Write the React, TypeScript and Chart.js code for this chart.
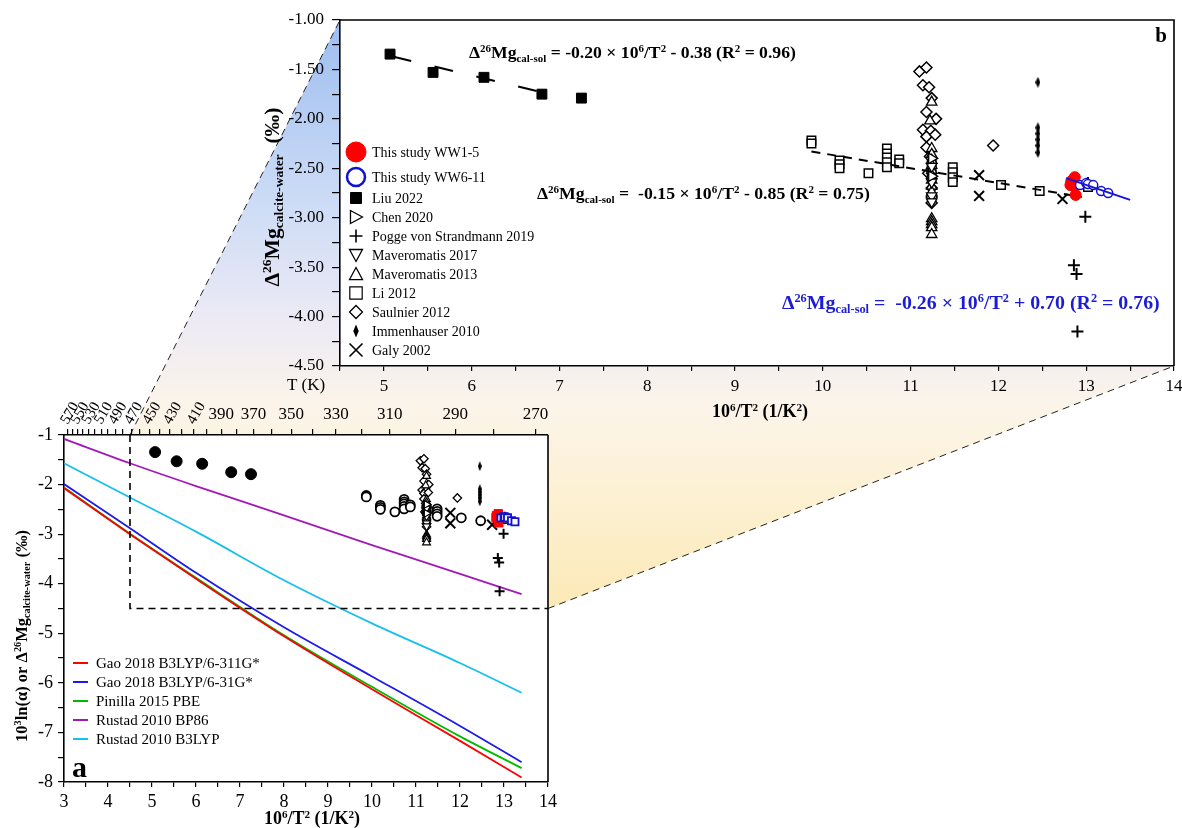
import React, { useEffect, useRef } from 'react';
import { Chart, registerables } from 'chart.js';

Chart.register(...registerables);

const W = 1182;
const H = 828;
const SERIF = "'Liberation Serif', 'Times New Roman', serif";

// ---------------- tick labels ----------------
const aXLabels = ['3', '4', '5', '6', '7', '8', '9', '10', '11', '12', '13', '14'];
const aYLabels = ['-1', '-2', '-3', '-4', '-5', '-6', '-7', '-8'];
const bXLabels = ['5', '6', '7', '8', '9', '10', '11', '12', '13', '14'];
const bYLabels = ['-1.00', '-1.50', '-2.00', '-2.50', '-3.00', '-3.50', '-4.00', '-4.50'];
const tempTicks = [570, 560, 550, 540, 530, 520, 510, 500, 490, 480, 470, 460, 450, 440, 430, 420, 410, 400, 390, 380, 370, 360, 350, 340, 330, 320, 310, 300, 290, 280, 270];
const tempRotLabels = [570, 550, 530, 510, 490, 470, 450, 430, 410];
const tempFlatLabels = [390, 370, 350, 330, 310, 290, 270];

// ---------------- panel a: theoretical lines ----------------
const theoryX = [3, 4.5, 6, 8, 10, 12, 13.4];
const gao311 = [-2.07, -3.0, -3.9, -5.06, -6.13, -7.17, -7.91];
const gao31 = [-1.99, -2.88, -3.78, -4.88, -5.87, -6.87, -7.6];
const pinilla = [-2.06, -2.99, -3.88, -5.04, -6.08, -7.08, -7.72];
const rustadBP86 = [-1.08, -1.57, -2.03, -2.62, -3.22, -3.8, -4.21];
const rustadB3LYP = [-1.57, -2.26, -2.95, -3.93, -4.8, -5.6, -6.2];
const theoryNames = ['Gao 2018 B3LYP/6-311G*', 'Gao 2018 B3LYP/6-31G*', 'Pinilla 2015 PBE', 'Rustad 2010 BP86', 'Rustad 2010 B3LYP'];
const theoryColors = ['#ff0000', '#1c1ce6', '#00bb00', '#a319b8', '#16c0ea'];

// zoom box (panel a region shown in panel b)
const boxX = [4.5, 4.5, 14];
const boxY = [-1, -4.5, -4.5];

// ---------------- measured data ----------------
const ww15X = [12.87, 12.83, 12.82, 12.86, 12.88];
const ww15Y = [-2.59, -2.63, -2.67, -2.68, -2.77];
const ww611X = [12.93, 13.0, 13.02, 13.08, 13.17, 13.25];
const ww611Y = [-2.67, -2.65, -2.66, -2.67, -2.73, -2.75];
const liuX = [5.07, 5.56, 6.14, 6.8, 7.25];
const liuY = [-1.345, -1.53, -1.58, -1.75, -1.79];
const chenX = [11.24, 11.24];
const chenY = [-2.4, -2.58];
const poggeX = [12.99, 13.02, 12.86, 12.89, 12.9];
const poggeY = [-2.99, -2.65, -3.48, -3.57, -4.15];
const mav2017X = [11.24, 11.24, 11.24, 11.24];
const mav2017Y = [-2.48, -2.64, -2.78, -2.84];
const mav2013X = [11.24, 11.22, 11.24, 11.24, 11.24, 11.24, 11.24, 11.24, 11.24, 11.24, 11.24, 11.24, 11.24, 11.24, 11.24, 11.24];
const mav2013Y = [-1.83, -2.02, -2.3, -2.36, -2.42, -2.47, -2.52, -2.57, -2.62, -2.68, -2.74, -3.01, -3.04, -3.07, -3.1, -3.17];
const li2012X = [9.87, 9.87, 10.19, 10.19, 10.19, 10.52, 10.73, 10.73, 10.73, 10.73, 10.73, 10.87, 10.87, 11.24, 11.24, 11.48, 11.48, 11.48, 11.48, 12.03, 12.47, 13.02];
const li2012Y = [-2.22, -2.25, -2.42, -2.46, -2.5, -2.55, -2.3, -2.35, -2.39, -2.44, -2.49, -2.41, -2.45, -2.46, -2.56, -2.49, -2.54, -2.59, -2.64, -2.67, -2.73, -2.69];
const saulnierX = [11.1, 11.18, 11.14, 11.21, 11.24, 11.18, 11.29, 11.14, 11.23, 11.18, 11.28, 11.18, 11.22, 11.2, 11.24, 11.24, 11.24, 11.94];
const saulnierY = [-1.52, -1.48, -1.66, -1.68, -1.79, -1.93, -2.0, -2.11, -2.12, -2.18, -2.16, -2.29, -2.38, -2.55, -2.7, -2.79, -2.85, -2.27];
const immenX = [12.45, 12.45, 12.45, 12.45, 12.45, 12.45];
const immenY = [-1.63, -2.09, -2.15, -2.21, -2.27, -2.34];
const galyX = [11.78, 11.78, 12.73];
const galyY = [-2.57, -2.78, -2.81];

// regression lines (panel b)
const liuFitX = [5.1, 6.94];
const liuFitY = [-1.37, -1.76];
const allFitX = [9.87, 12.95];
const allFitY = [-2.33, -2.79];
const wwFitX = [12.77, 13.5];
const wwFitY = [-2.6, -2.82];

const legendBLabels = ['This study WW1-5', 'This study WW6-11', 'Liu 2022', 'Chen 2020', 'Pogge von Strandmann 2019', 'Maveromatis 2017', 'Maveromatis 2013', 'Li 2012', 'Saulnier 2012', 'Immenhauser 2010', 'Galy 2002'];

// ---------------- helpers ----------------
const pts = (xs: number[], ys: number[]) => xs.map((x, i) => ({ x, y: ys[i] }));

function markerSet(label: string, xs: number[], ys: number[], style: any, r: number, stroke: string, fill: string, bw: number, rot = 0, order = 0) {
  return {
    label, data: pts(xs, ys), showLine: false,
    pointStyle: style, pointRadius: r, pointHoverRadius: r,
    pointBorderColor: stroke, pointBackgroundColor: fill, pointBorderWidth: bw,
    pointRotation: rot, order,
  };
}
function lineSet(label: string, xs: number[], ys: number[], color: string, width: number, dash: number[], order: number, smooth = false) {
  return {
    label, data: pts(xs, ys), showLine: true, borderColor: color, borderWidth: width,
    borderDash: dash, pointRadius: 0, pointHoverRadius: 0, order, fill: false,
    cubicInterpolationMode: smooth ? 'monotone' : 'default',
  };
}
function thinDiamond(w: number, h: number) {
  const c = document.createElement('canvas');
  c.width = w; c.height = h;
  const g = c.getContext('2d')!;
  g.fillStyle = '#000';
  g.beginPath();
  g.moveTo(w / 2, 0); g.lineTo(w, h / 2); g.lineTo(w / 2, h); g.lineTo(0, h / 2);
  g.closePath(); g.fill();
  return c;
}

type Part = [string, number];
function richDraw(ctx: CanvasRenderingContext2D, parts: Part[], x: number, y: number, size: number, bold: boolean, color: string, align: string, fit?: number) {
  const wt = bold ? 'bold ' : '';
  const measure = (S: number) => {
    let w = 0;
    for (const [t, k] of parts) { ctx.font = `${wt}${k ? S * 0.62 : S}px ${SERIF}`; w += ctx.measureText(t).width; }
    return w;
  };
  let S = size;
  let w = measure(S);
  if (fit) {
    const k = Math.max(0.8, Math.min(1.25, fit / w));
    S = size * k; w = measure(S);
  }
  let cx = align === 'center' ? x - w / 2 : x;
  ctx.fillStyle = color; ctx.textBaseline = 'alphabetic'; ctx.textAlign = 'left';
  for (const [t, k] of parts) {
    const fs = k ? S * 0.62 : S;
    ctx.font = `${wt}${fs}px ${SERIF}`;
    const dy = k === 1 ? -0.36 * S : k === -1 ? 0.2 * S : 0;
    ctx.fillText(t, cx, y + dy);
    cx += ctx.measureText(t).width;
  }
}

function drawMarker(ctx: CanvasRenderingContext2D, kind: string, x: number, y: number, r: number, stroke: string, fill: string, lw: number) {
  ctx.save();
  ctx.strokeStyle = stroke; ctx.fillStyle = fill; ctx.lineWidth = lw;
  ctx.beginPath();
  switch (kind) {
    case 'circle': ctx.arc(x, y, r, 0, Math.PI * 2); break;
    case 'square': ctx.rect(x - r, y - r, 2 * r, 2 * r); break;
    case 'diamond': ctx.moveTo(x, y - r); ctx.lineTo(x + r, y); ctx.lineTo(x, y + r); ctx.lineTo(x - r, y); ctx.closePath(); break;
    case 'thin': ctx.moveTo(x, y - r); ctx.lineTo(x + r * 0.42, y); ctx.lineTo(x, y + r); ctx.lineTo(x - r * 0.42, y); ctx.closePath(); break;
    case 'triUp': ctx.moveTo(x, y - r); ctx.lineTo(x + r, y + r * 0.85); ctx.lineTo(x - r, y + r * 0.85); ctx.closePath(); break;
    case 'triDown': ctx.moveTo(x, y + r); ctx.lineTo(x + r, y - r * 0.85); ctx.lineTo(x - r, y - r * 0.85); ctx.closePath(); break;
    case 'triRight': ctx.moveTo(x + r, y); ctx.lineTo(x - r * 0.85, y - r); ctx.lineTo(x - r * 0.85, y + r); ctx.closePath(); break;
    case 'plus': ctx.moveTo(x - r, y); ctx.lineTo(x + r, y); ctx.moveTo(x, y - r); ctx.lineTo(x, y + r); break;
    case 'x': ctx.moveTo(x - r, y - r); ctx.lineTo(x + r, y + r); ctx.moveTo(x + r, y - r); ctx.lineTo(x - r, y + r); break;
  }
  if (fill !== 'none' && kind !== 'plus' && kind !== 'x') ctx.fill();
  if (kind !== 'thin') ctx.stroke();
  ctx.restore();
}

const labelCb = (list: string[], digits: number) => (v: any) => {
  const n = Number(v);
  const t = digits > 0 ? n.toFixed(digits) : String(Math.round(n * 100) / 100);
  return list.includes(t) ? t : '';
};

const tickFont = (size: number) => ({ family: SERIF, size });
const gridTicks = (len: number) => ({ display: true, drawOnChartArea: false, drawTicks: true, tickLength: len, color: '#000', lineWidth: 1.2 });
const axisBorder = { display: true, color: '#000', width: 1.6 };

const eq1: Part[] = [['Δ', 0], ['26', 1], ['Mg', 0], ['cal-sol', -1], [' = -0.20 × 10', 0], ['6', 1], ['/T', 0], ['2', 1], [' - 0.38 (R', 0], ['2', 1], [' = 0.96)', 0]];
const eq2: Part[] = [['Δ', 0], ['26', 1], ['Mg', 0], ['cal-sol', -1], [' =  -0.15 × 10', 0], ['6', 1], ['/T', 0], ['2', 1], [' - 0.85 (R', 0], ['2', 1], [' = 0.75)', 0]];
const eq3: Part[] = [['Δ', 0], ['26', 1], ['Mg', 0], ['cal-sol', -1], [' =  -0.26 × 10', 0], ['6', 1], ['/T', 0], ['2', 1], [' + 0.70 (R', 0], ['2', 1], [' = 0.76)', 0]];
const xTitle: Part[] = [['10', 0], ['6', 1], ['/T', 0], ['2', 1], [' (1/K', 0], ['2', 1], [')', 0]];
const yTitleB: Part[] = [['Δ', 0], ['26', 1], ['Mg', 0], ['calcite-water', -1], ['  (‰)', 0]];
const yTitleA: Part[] = [['10', 0], ['3', 1], ['ln(α) or Δ', 0], ['26', 1], ['Mg', 0], ['calcite-water', -1], [' (‰)', 0]];

// ---------------- panel a ----------------
function makeConfigA(immA: HTMLCanvasElement) {
  const pluginA = {
    id: 'panelA',
    beforeDraw(chart: any) {
      const { ctx, chartArea: ca } = chart;
      ctx.save(); ctx.fillStyle = '#fff';
      ctx.fillRect(ca.left, ca.top, ca.right - ca.left, ca.bottom - ca.top);
      ctx.restore();
    },
    afterDraw(chart: any) {
      const { ctx, chartArea: ca } = chart;
      ctx.save();
      ctx.strokeStyle = '#000'; ctx.lineWidth = 1.6;
      ctx.beginPath(); ctx.moveTo(ca.right, ca.top); ctx.lineTo(ca.right, ca.bottom); ctx.stroke();
      // rotated temperature labels
      const sT = chart.scales.xT;
      ctx.font = `15px ${SERIF}`; ctx.fillStyle = '#000'; ctx.textAlign = 'left'; ctx.textBaseline = 'middle';
      for (const T of tempRotLabels) {
        const px = sT.getPixelForValue(1e6 / (T * T));
        ctx.save(); ctx.translate(px - 3, ca.top - 12); ctx.rotate(-Math.PI / 3);
        ctx.fillText(String(T), 0, 0); ctx.restore();
      }
      ctx.font = `17px ${SERIF}`; ctx.textAlign = 'center'; ctx.textBaseline = 'alphabetic';
      ctx.fillText('T (K)', 306, 390);
      // legend
      const rows = [663, 682, 701, 720, 739];
      theoryNames.forEach((n, i) => {
        ctx.strokeStyle = theoryColors[i]; ctx.lineWidth = 2;
        ctx.beginPath(); ctx.moveTo(73, rows[i]); ctx.lineTo(88, rows[i]); ctx.stroke();
        ctx.font = `15px ${SERIF}`; ctx.fillStyle = '#000'; ctx.textAlign = 'left';
        ctx.fillText(n, 96, rows[i] + 5);
      });
      // panel letter
      ctx.font = `bold 30px ${SERIF}`; ctx.textAlign = 'left';
      ctx.fillText('a', 72, 777);
      // titles
      richDraw(ctx, xTitle, 312, 824, 18, true, '#000', 'center');
      ctx.save(); ctx.translate(27, 636); ctx.rotate(-Math.PI / 2);
      richDraw(ctx, yTitleA, 0, 0, 18, true, '#000', 'center', 212);
      ctx.restore();
      ctx.restore();
    },
  };
  return {
    type: 'scatter',
    data: {
      datasets: [
        markerSet('This study WW1-5', ww15X, ww15Y, 'rect', 6, '#ff0000', '#ff0000', 1, 0, -3),
        markerSet('This study WW6-11', ww611X, ww611Y, 'rect', 5, '#1010d0', '#ffffff', 1.8, 0, -4),
        markerSet('Liu 2022', liuX, liuY, 'circle', 5.5, '#000', '#000', 1, 0, 0),
        markerSet('Chen 2020', chenX, chenY, 'triangle', 4.5, '#000', '#fff', 1.2, 90, 0),
        markerSet('Pogge von Strandmann 2019', poggeX, poggeY, 'cross', 5, '#000', '#000', 2, 0, -1),
        markerSet('Maveromatis 2017', mav2017X, mav2017Y, 'triangle', 4.5, '#000', '#fff', 1.2, 180, 0),
        markerSet('Maveromatis 2013', mav2013X, mav2013Y, 'triangle', 4.5, '#000', '#fff', 1.2, 0, 0),
        markerSet('Li 2012', li2012X, li2012Y, 'circle', 4.5, '#000', '#fff', 1.8, 0, 0),
        markerSet('Saulnier 2012', saulnierX, saulnierY, 'rectRot', 4.2, '#000', '#fff', 1.3, 0, 0),
        markerSet('Immenhauser 2010', immenX, immenY, immA, 5, '#000', '#000', 1, 0, 0),
        markerSet('Galy 2002', galyX, galyY, 'crossRot', 7, '#000', '#000', 2, 0, -1),
        lineSet('zoom box', boxX, boxY, '#000', 1.6, [7, 5], 5),
        lineSet(theoryNames[1], theoryX, gao31, theoryColors[1], 1.8, [], 8, true),
        lineSet(theoryNames[2], theoryX, pinilla, theoryColors[2], 1.8, [], 9, true),
        lineSet(theoryNames[0], theoryX, gao311, theoryColors[0], 1.8, [], 7, true),
        lineSet(theoryNames[3], theoryX, rustadBP86, theoryColors[3], 1.8, [], 8, true),
        lineSet(theoryNames[4], theoryX, rustadB3LYP, theoryColors[4], 1.8, [], 8, true),
      ],
    },
    options: {
      responsive: false, animation: false, devicePixelRatio: 1, events: [],
      layout: { autoPadding: false, padding: { left: 14, top: 405, right: W - 548, bottom: H - 782 - 30 } },
      plugins: { legend: { display: false }, tooltip: { enabled: false } },
      scales: {
        x: {
          type: 'linear', position: 'bottom', min: 3, max: 14,
          ticks: { stepSize: 0.5, autoSkip: false, maxRotation: 0, minRotation: 0, padding: 4, color: '#000', font: tickFont(18), callback: labelCb(aXLabels, 0) },
          grid: gridTicks(5), border: axisBorder,
          afterFit: (s: any) => { s.height = 30; s.paddingLeft = 0; s.paddingRight = 0; s.paddingTop = 0; s.paddingBottom = 0; },
        },
        xT: {
          type: 'linear', position: 'top', min: 3, max: 14,
          afterBuildTicks: (s: any) => { s.ticks = tempTicks.map((T) => ({ value: 1e6 / (T * T) })); },
          ticks: {
            autoSkip: false, maxRotation: 0, minRotation: 0, padding: 4, color: '#000', font: tickFont(17),
            callback: (v: any) => { const T = Math.round(1000 / Math.sqrt(Number(v))); return tempFlatLabels.includes(T) ? String(T) : ''; },
          },
          grid: gridTicks(6), border: axisBorder,
          afterFit: (s: any) => { s.height = 30; s.paddingLeft = 0; s.paddingRight = 0; s.paddingTop = 0; s.paddingBottom = 0; },
        },
        y: {
          type: 'linear', position: 'left', min: -8, max: -1,
          ticks: { stepSize: 0.5, autoSkip: false, padding: 5, color: '#000', font: tickFont(18), callback: labelCb(aYLabels, 0) },
          grid: gridTicks(6), border: axisBorder,
          afterFit: (s: any) => { s.width = 50; s.paddingTop = 0; s.paddingBottom = 0; s.paddingLeft = 0; s.paddingRight = 0; },
        },
      },
    },
    plugins: [pluginA],
  };
}

// ---------------- panel b ----------------
function makeConfigB(chartA: any, immB: HTMLCanvasElement) {
  const legendSpecs = [
    { kind: 'circle', r: 10, stroke: '#ff0000', fill: '#ff0000', lw: 1 },
    { kind: 'circle', r: 9, stroke: '#1010d0', fill: '#fff', lw: 2.5 },
    { kind: 'square', r: 5.5, stroke: '#000', fill: '#000', lw: 1 },
    { kind: 'triRight', r: 6.5, stroke: '#000', fill: '#fff', lw: 1.3 },
    { kind: 'plus', r: 6.5, stroke: '#000', fill: 'none', lw: 1.6 },
    { kind: 'triDown', r: 6.5, stroke: '#000', fill: '#fff', lw: 1.3 },
    { kind: 'triUp', r: 6.5, stroke: '#000', fill: '#fff', lw: 1.3 },
    { kind: 'square', r: 6.2, stroke: '#000', fill: '#fff', lw: 1.2 },
    { kind: 'diamond', r: 6.5, stroke: '#000', fill: '#fff', lw: 1.3 },
    { kind: 'thin', r: 6.5, stroke: '#000', fill: '#000', lw: 1 },
    { kind: 'x', r: 6.5, stroke: '#000', fill: 'none', lw: 1.6 },
  ];
  const legendRows = [152, 177, 198, 217, 236, 255, 274, 293, 312, 331, 350];
  const pluginB = {
    id: 'panelB',
    beforeDraw(chart: any) {
      const { ctx, chartArea: ca } = chart;
      const ax = chartA.scales.x, ay = chartA.scales.y, bx = chart.scales.x, by = chart.scales.y;
      const p1 = [ax.getPixelForValue(boxX[0]), ay.getPixelForValue(boxY[0])];
      const p2 = [bx.getPixelForValue(boxX[0]), by.getPixelForValue(boxY[0])];
      const p3 = [bx.getPixelForValue(boxX[2]), by.getPixelForValue(boxY[0])];
      const p4 = [bx.getPixelForValue(boxX[2]), by.getPixelForValue(boxY[2])];
      const p5 = [ax.getPixelForValue(boxX[2]), ay.getPixelForValue(boxY[2])];
      ctx.save();
      const g = ctx.createLinearGradient(0, p2[1], 0, p5[1]);
      g.addColorStop(0, '#9dbdf0');
      g.addColorStop(0.3, '#cbdbf6');
      g.addColorStop(0.5, '#ebe9f5');
      g.addColorStop(0.65, '#fbf4ea');
      g.addColorStop(0.8, '#fdf1d4');
      g.addColorStop(1, '#fce9b6');
      ctx.fillStyle = g;
      ctx.beginPath();
      ctx.moveTo(p1[0], p1[1]); ctx.lineTo(p2[0], p2[1]); ctx.lineTo(p3[0], p3[1]);
      ctx.lineTo(p4[0], p4[1]); ctx.lineTo(p5[0], p5[1]); ctx.closePath(); ctx.fill();
      ctx.fillStyle = '#fff';
      ctx.fillRect(ca.left, ca.top, ca.right - ca.left, ca.bottom - ca.top);
      ctx.strokeStyle = '#222'; ctx.lineWidth = 1; ctx.setLineDash([7, 5]);
      ctx.beginPath(); ctx.moveTo(p1[0], p1[1]); ctx.lineTo(p2[0], p2[1]); ctx.stroke();
      ctx.beginPath(); ctx.moveTo(p5[0], p5[1]); ctx.lineTo(p4[0], p4[1]); ctx.stroke();
      ctx.restore();
    },
    afterDraw(chart: any) {
      const { ctx, chartArea: ca } = chart;
      ctx.save();
      ctx.strokeStyle = '#000'; ctx.lineWidth = 1.6;
      ctx.beginPath(); ctx.moveTo(ca.left, ca.top); ctx.lineTo(ca.right, ca.top); ctx.lineTo(ca.right, ca.bottom); ctx.stroke();
      // legend
      legendBLabels.forEach((lab, i) => {
        const s = legendSpecs[i];
        drawMarker(ctx, s.kind, 356, legendRows[i], s.r, s.stroke, s.fill, s.lw);
        ctx.font = `14px ${SERIF}`; ctx.fillStyle = '#000'; ctx.textAlign = 'left'; ctx.textBaseline = 'alphabetic';
        ctx.fillText(lab, 372, legendRows[i] + 5);
      });
      // equations
      richDraw(ctx, eq1, 469, 58, 17, true, '#000', 'left', 327);
      richDraw(ctx, eq2, 537, 199, 17, true, '#000', 'left', 333);
      richDraw(ctx, eq3, 782, 309, 21, true, '#1c1cd4', 'left', 378);
      // panel letter
      ctx.font = `bold 21px ${SERIF}`; ctx.fillStyle = '#000'; ctx.textAlign = 'center';
      ctx.fillText('b', 1161, 42);
      // titles
      richDraw(ctx, xTitle, 760, 417, 18, true, '#000', 'center');
      ctx.save(); ctx.translate(279, 197); ctx.rotate(-Math.PI / 2);
      richDraw(ctx, yTitleB, 0, 0, 18, true, '#000', 'center', 179);
      ctx.restore();
      ctx.restore();
    },
  };
  return {
    type: 'scatter',
    data: {
      datasets: [
        lineSet('WW fit', wwFitX, wwFitY, '#1515d8', 2, [], -5),
        markerSet('This study WW6-11', ww611X, ww611Y, 'circle', 4.5, '#1010d0', '#ffffff', 1.5, 0, -4),
        markerSet('This study WW1-5', ww15X, ww15Y, 'circle', 5.5, '#ff0000', '#ff0000', 1, 0, -3),
        lineSet('Liu fit', liuFitX, liuFitY, '#000', 2, [19, 24], -2),
        lineSet('All fit', allFitX, allFitY, '#000', 2, [9, 7], -2),
        markerSet('Liu 2022', liuX, liuY, 'rect', 7, '#000', '#000', 1, 0, 0),
        markerSet('Chen 2020', chenX, chenY, 'triangle', 6, '#000', '#fff', 1.3, 90, 0),
        markerSet('Pogge von Strandmann 2019', poggeX, poggeY, 'cross', 6, '#000', '#000', 2, 0, -1),
        markerSet('Maveromatis 2017', mav2017X, mav2017Y, 'triangle', 6, '#000', '#fff', 1.3, 180, 0),
        markerSet('Maveromatis 2013', mav2013X, mav2013Y, 'triangle', 6, '#000', '#fff', 1.3, 0, 0),
        markerSet('Li 2012', li2012X, li2012Y, 'rect', 6, '#000', '#fff', 1.5, 0, 0),
        markerSet('Saulnier 2012', saulnierX, saulnierY, 'rectRot', 5.5, '#000', '#fff', 1.5, 0, 0),
        markerSet('Immenhauser 2010', immenX, immenY, immB, 5, '#000', '#000', 1, 0, 0),
        markerSet('Galy 2002', galyX, galyY, 'crossRot', 7, '#000', '#000', 2, 0, -1),
      ],
    },
    options: {
      responsive: false, animation: false, devicePixelRatio: 1, events: [],
      layout: { autoPadding: false, padding: { left: 280, top: 20, right: W - 1174, bottom: H - 366 - 40 } },
      plugins: { legend: { display: false }, tooltip: { enabled: false } },
      scales: {
        x: {
          type: 'linear', position: 'bottom', min: 4.5, max: 14,
          ticks: { stepSize: 0.5, autoSkip: false, maxRotation: 0, minRotation: 0, padding: 5, color: '#000', font: tickFont(17), callback: labelCb(bXLabels, 0) },
          grid: gridTicks(5), border: axisBorder,
          afterFit: (s: any) => { s.height = 40; s.paddingLeft = 0; s.paddingRight = 0; s.paddingTop = 0; s.paddingBottom = 0; },
        },
        y: {
          type: 'linear', position: 'left', min: -4.5, max: -1,
          ticks: { stepSize: 0.25, autoSkip: false, padding: 8, color: '#000', font: tickFont(17), callback: labelCb(bYLabels, 2) },
          grid: gridTicks(8), border: axisBorder,
          afterFit: (s: any) => { s.width = 60; s.paddingTop = 0; s.paddingBottom = 0; s.paddingLeft = 0; s.paddingRight = 0; },
        },
      },
    },
    plugins: [pluginB],
  };
}

export default function App() {
  const refA = useRef<HTMLCanvasElement>(null);
  const refB = useRef<HTMLCanvasElement>(null);
  useEffect(() => {
    Chart.defaults.font.family = SERIF;
    Chart.defaults.color = '#000';
    const immA = thinDiamond(4, 10);
    const immB = thinDiamond(5, 11);
    const chartA = new Chart(refA.current as any, makeConfigA(immA) as any);
    const chartB = new Chart(refB.current as any, makeConfigB(chartA, immB) as any);
    return () => { chartB.destroy(); chartA.destroy(); };
  }, []);
  return (
    <div style={{ position: 'absolute', left: 0, top: 0, width: W, height: H, overflow: 'hidden', background: '#fff' }}>
      <canvas ref={refB} width={W} height={H} style={{ position: 'absolute', left: 0, top: 0, zIndex: 1, width: W, height: H }} />
      <canvas ref={refA} width={W} height={H} style={{ position: 'absolute', left: 0, top: 0, zIndex: 2, width: W, height: H }} />
    </div>
  );
}
